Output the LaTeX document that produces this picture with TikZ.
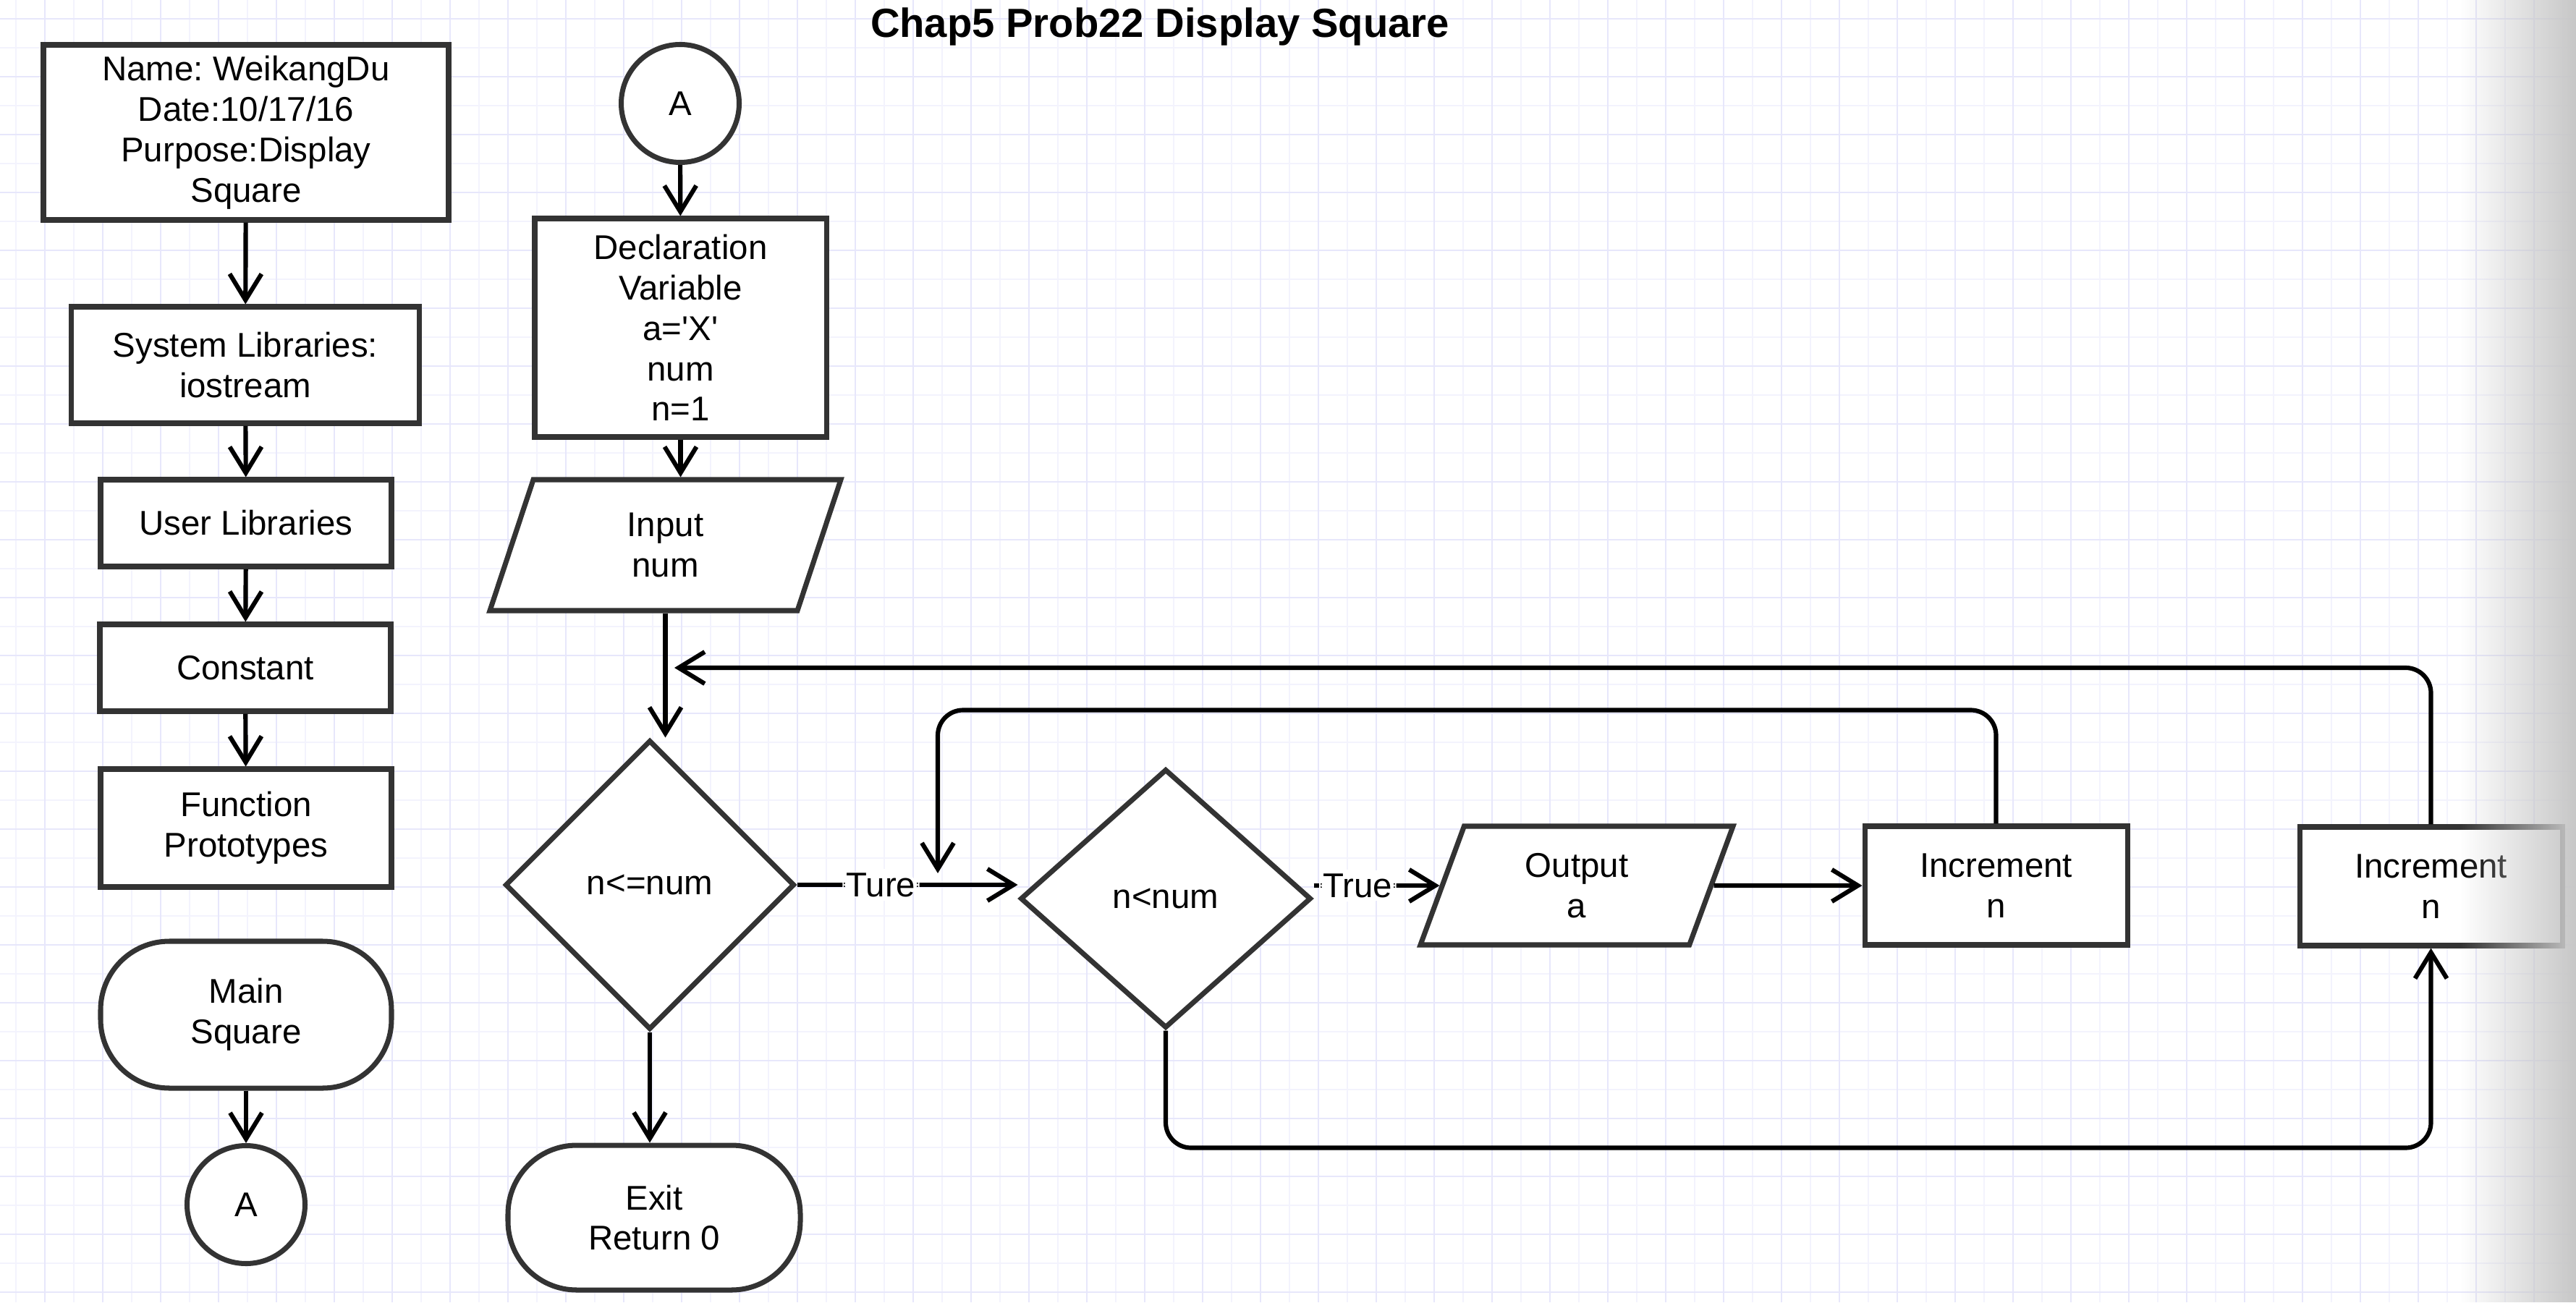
\documentclass[tikz,border=0pt]{standalone}
\usepackage{fontspec}
\setmainfont{Liberation Sans}
\usepackage{xcolor}
\usetikzlibrary{arrows.meta,shapes,fadings}
\frenchspacing

\definecolor{gridmaj}{RGB}{231,231,251}
\definecolor{gridmin}{RGB}{243,243,253}
\definecolor{edgegray}{RGB}{51,51,51}
\tikzfading[name=pageedge, left color=transparent!100, right color=transparent!0]

\begin{document}
\begin{tikzpicture}[scale=1,
  >={Straight Barb[length=3.6mm,width=4.4mm]},
  font=\fontsize{13.5}{15.9}\selectfont,
  prc/.style={draw=edgegray,line width=2pt,fill=white,align=center,inner sep=0pt},
  trm/.style={prc,rounded corners=9.5mm},
  dcs/.style={prc,diamond},
  iobox/.style={prc,trapezium,trapezium left angle=56,trapezium right angle=124,trapezium stretches body},
  conn/.style={prc,circle,minimum size=1.63cm},
  flow/.style={->,line width=1.75pt,rounded corners=3.5mm},
  lbl/.style={fill=white,inner sep=1.5pt}
]
\useasboundingbox (0,0) rectangle (35.6,18);
\fill[white] (0,0) rectangle (35.6,18);
\foreach \k in {0,...,88} \draw[gridmin,line width=0.55pt] (0.217+0.4*\k,0) -- ++(0,18);
\foreach \k in {0,...,44} \draw[gridmin,line width=0.55pt] (0,0.14+0.4*\k) -- ++(35.6,0);
\foreach \k in {0,...,44} \draw[gridmaj,line width=0.55pt] (0.617+0.8*\k,0) -- ++(0,18);
\foreach \k in {0,...,22} \draw[gridmaj,line width=0.55pt] (0,0.14+0.8*\k) -- ++(35.6,0);
%
\node[font=\fontsize{16}{19}\selectfont\bfseries,anchor=base] (title) at (16.03,17.48) {Chap5 Prob22 Display Square};
%
\node[prc,minimum width=5.6cm,minimum height=2.42cm] (info) at (3.40,16.17) {Name: WeikangDu\\Date:10/17/16\\Purpose:Display\\Square};
\node[prc,minimum width=4.81cm,minimum height=1.61cm] (syslib) at (3.39,12.955) {System Libraries:\\iostream};
\node[prc,minimum width=4.02cm,minimum height=1.2cm] (userlib) at (3.40,10.77) {User Libraries};
\node[prc,minimum width=4.02cm,minimum height=1.2cm] (const) at (3.39,8.77) {Constant};
\node[prc,minimum width=4.02cm,minimum height=1.63cm] (proto) at (3.40,6.555) {Function\\Prototypes};
\node[trm,minimum width=4.02cm,minimum height=2.03cm] (main) at (3.40,3.975) {Main\\Square};
\node[conn] (ca) at (3.40,1.35) {A};
%
\node[conn] (cb) at (9.40,16.57) {A};
\node[prc,minimum width=4.03cm,minimum height=3.02cm] (decl) at (9.405,13.47) {Declaration\\Variable\\a=\textquotesingle X\textquotesingle\\num\\n=1};
\node[iobox,minimum width=4.85cm,minimum height=1.81cm] (input) at (9.195,10.465) {Input\\num};
\node[dcs,minimum width=4cm,minimum height=4cm] (test1) at (8.98,5.77) {n<=num};
\node[trm,minimum width=4.04cm,minimum height=2cm] (exit) at (9.04,1.17) {Exit\\Return 0};
\node[dcs,minimum width=4.02cm,minimum height=3.58cm] (test2) at (16.11,5.58) {n<num};
\node[iobox,minimum width=4.32cm,minimum height=1.64cm] (output) at (21.79,5.76) {Output\\a};
\node[prc,minimum width=3.63cm,minimum height=1.64cm] (inc1) at (27.585,5.76) {Increment\\n};
\node[prc,minimum width=3.63cm,minimum height=1.64cm] (inc2) at (33.595,5.75) {Increment\\n};
%
\coordinate (loopin) at (12.96,5.93);
\coordinate (back) at (9.32,8.77);
%
\draw[flow] (info) -- (syslib);
\draw[flow] (syslib) -- (userlib);
\draw[flow] (userlib) -- (const);
\draw[flow] (const) -- (proto);
\draw[flow] (main) -- (ca);
\draw[flow] (cb) -- (decl);
\draw[flow] (decl.south) -- (decl.south |- input.north);
\draw[flow] (input.south) -- (input.south |- test1.north);
\draw[flow] (test1.south) -- (test1.south |- exit.north);
\draw[flow] (test1.east) -- node[lbl,pos=0.38] {Ture} (test1.east -| test2.west);
\draw[flow] (test2.east |- output.west) -- node[lbl,pos=0.35] {True} (output.west);
\draw[flow] (output) -- (inc1);
\draw[flow] (inc1.north) -- ++(0,1.57) -| (loopin);
\draw[flow] (test2.south) -- ++(0,-1.62) -| (inc2.south);
\draw[flow] (inc2.north) |- (back);
%
\fill[black!22,path fading=pageedge] (34.0,0) rectangle (35.6,18);
\end{tikzpicture}
\end{document}
